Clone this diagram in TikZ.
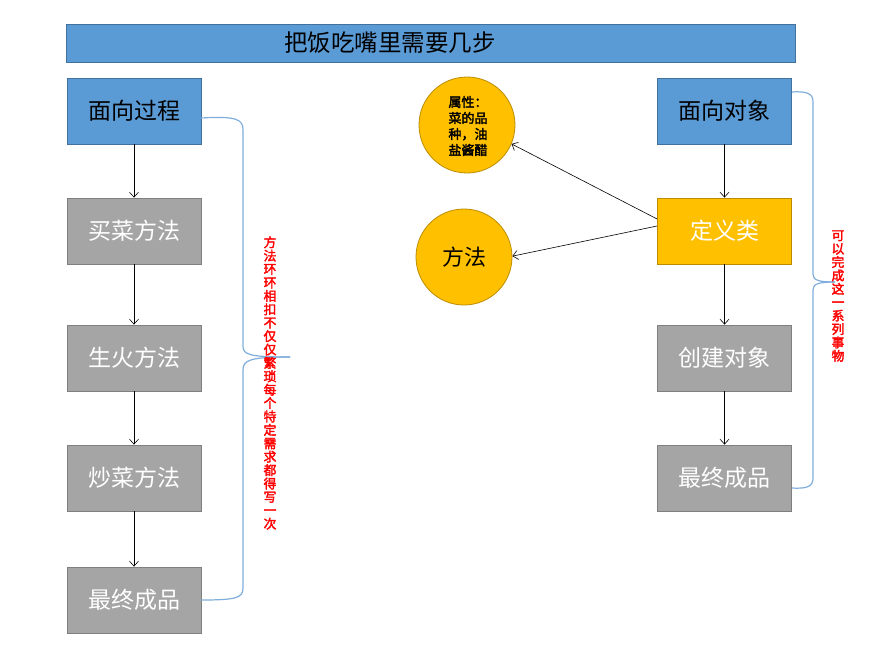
\documentclass[tikz,border=0pt]{standalone}
\usepackage{fontspec}
\setmainfont{Noto Sans CJK SC}
\newfontfamily\cjkb[FakeBold=2.5]{Noto Sans CJK SC}
\usetikzlibrary{arrows.meta}
\definecolor{bluef}{HTML}{5B9BD5}
\definecolor{blued}{HTML}{41719C}
\definecolor{grayf}{HTML}{A5A5A5}
\definecolor{grayd}{HTML}{7F7F7F}
\definecolor{orf}{HTML}{FFC000}
\definecolor{ord}{HTML}{BC8C00}
\definecolor{bracec}{HTML}{7FAEDC}
\begin{document}
\begin{tikzpicture}[x=1pt,y=-1pt,
 box/.style={draw, line width=0.8pt, minimum width=134pt, minimum height=66pt, inner sep=0pt, font=\fontsize{23}{26}\selectfont},
 bluebox/.style={box, fill=bluef, draw=blued, text=black},
 graybox/.style={box, fill=grayf, draw=grayd, text=white},
 orbox/.style={box, fill=orf, draw=ord, text=white},
 circ/.style={circle, fill=orf, draw=ord, line width=0.8pt, minimum size=96pt, inner sep=0pt},
 arr/.style={-{Straight Barb[length=5pt,width=9pt]}, line width=0.6pt},
 brace/.style={draw=bracec, line width=1.2pt},
 redtxt/.style={text=red, align=center, font=\cjkb\fontsize{12.8}{13.4}\selectfont, inner sep=0pt}
]
\useasboundingbox (0,0) rectangle (892,653);
\fill[white] (0,0) rectangle (892,653);

% title
\node[draw=blued, fill=bluef, line width=0.8pt, minimum width=729pt, minimum height=38pt, inner sep=0pt] (title) at (430.5,43) {};
\node[font=\fontsize{23.5}{26}\selectfont, inner sep=0pt] (titletext) at (390,43) {把饭吃嘴里需要几步};

% left column
\node[bluebox] (l1) at (134,111) {面向过程};
\node[graybox] (l2) at (134,231) {买菜方法};
\node[graybox] (l3) at (134,358) {生火方法};
\node[graybox] (l4) at (134,478) {炒菜方法};
\node[graybox] (l5) at (134,600) {最终成品};
\draw[arr] (l1) -- (l2);
\draw[arr] (l2) -- (l3);
\draw[arr] (l3) -- (l4);
\draw[arr] (l4) -- (l5);

% left brace
\draw[brace] (201,118) .. controls (236,116) and (243,119) .. (243,130) -- (243,346) .. controls (243,355) and (250,357) .. (290,357);
\draw[brace] (290,357) .. controls (250,357) and (243,360) .. (243,370) -- (243,588) .. controls (243,598) and (236,600) .. (201,600);
\node[redtxt] (ltxt) at (270,383) {方\\法\\环\\环\\相\\扣\\不\\仅\\仅\\繁\\琐\\每\\个\\特\\定\\需\\求\\都\\得\\写\\一\\次};

% right column
\node[bluebox] (r1) at (724.5,111) {面向对象};
\node[orbox] (r2) at (724.5,231) {定义类};
\node[graybox] (r3) at (724.5,358) {创建对象};
\node[graybox] (r4) at (724.5,478) {最终成品};
\draw[arr] (r1) -- (r2);
\draw[arr] (r2) -- (r3);
\draw[arr] (r3) -- (r4);

% circles
\node[circ] (attr) at (467,125) {};
\node[font=\cjkb\fontsize{13}{16}\selectfont, align=center, inner sep=0pt] (attrtxt) at (468,126) {属性：\\菜的品\\种，油\\盐酱醋};
\node[circ, font=\fontsize{22}{24}\selectfont] (meth) at (464,257) {方法};
\draw[arr] ([yshift=12pt]r2.west) -- (attr.-23);
\draw[arr] ([yshift=5pt]r2.west) -- (meth.1);

% right brace
\draw[brace] (792,92) .. controls (808,91) and (813,94) .. (813,102) -- (813,274) .. controls (813,280) and (818,282) .. (835,282);
\draw[brace] (835,282) .. controls (818,282) and (813,284) .. (813,290) -- (813,478) .. controls (813,486) and (808,489) .. (792,488);
\node[redtxt] (rtxt) at (838,296) {可\\以\\完\\成\\这\\一\\系\\列\\事\\物};
\end{tikzpicture}
\end{document}
